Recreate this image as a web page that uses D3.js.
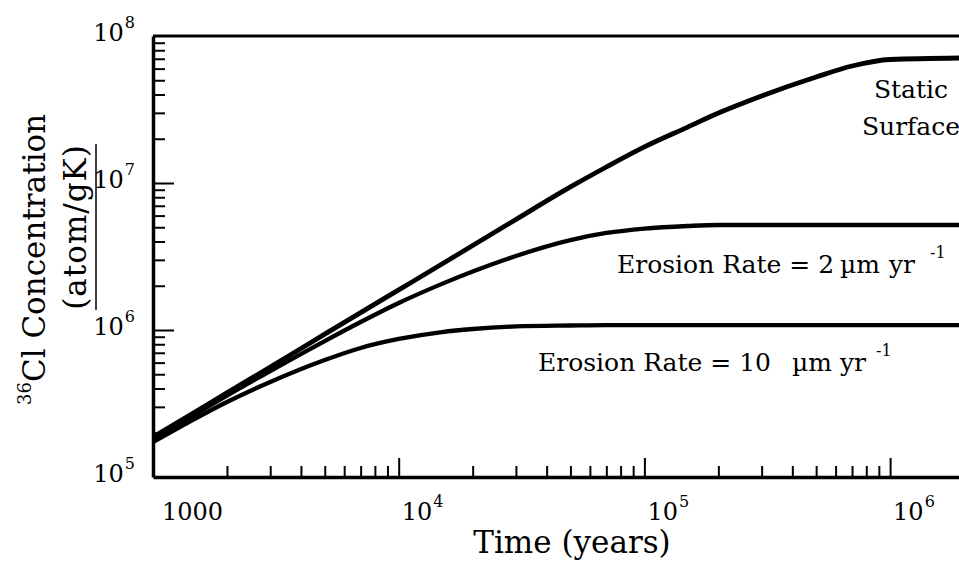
<!DOCTYPE html>
<html>
<head>
<meta charset="utf-8">
<script src="https://cdn.jsdelivr.net/npm/d3@7"></script>
<style>
  html, body { margin: 0; padding: 0; background: #fff; }
  svg { display: block; }
  text { font-family: "DejaVu Serif", "Liberation Serif", serif; fill: #000; }
</style>
</head>
<body>
<svg id="chart" width="959" height="572"></svg>
<script>
// ---- data ----
const time = [1000, 1500, 2000, 3000, 5000, 7000, 1e4, 1.5e4, 2e4, 3e4, 5e4, 7e4,
              1e5, 1.5e5, 2e5, 3e5, 5e5, 7e5, 1e6, 2e6];
const staticSurface = [1.87e5, 2.80e5, 3.74e5, 5.60e5, 9.37e5, 1.313e6, 1.874e6, 2.81e6,
                       3.76e6, 5.65e6, 9.40e6, 1.285e7, 1.76e7, 2.40e7, 2.99e7, 3.91e7,
                       5.26e7, 6.25e7, 6.92e7, 7.09e7];
const erosion2 = [1.82e5, 2.70e5, 3.58e5, 5.26e5, 8.41e5, 1.133e6, 1.527e6, 2.06e6,
                  2.50e6, 3.19e6, 4.09e6, 4.57e6, 4.90e6, 5.10e6, 5.18e6, 5.18e6,
                  5.18e6, 5.18e6, 5.18e6, 5.18e6];
const erosion10 = [1.73e5, 2.52e5, 3.24e5, 4.43e5, 6.25e5, 7.55e5, 8.69e5, 9.69e5,
                   1.016e6, 1.057e6, 1.073e6, 1.08e6, 1.08e6, 1.08e6, 1.08e6, 1.08e6,
                   1.08e6, 1.08e6, 1.08e6, 1.08e6];
const xMajorTicks = [1e3, 1e4, 1e5, 1e6];
const xTickLabels = [{base: "1000", sup: ""}, {base: "10", sup: "4"}, {base: "10", sup: "5"}, {base: "10", sup: "6"}];
const yMajorTicks = [1e5, 1e6, 1e7, 1e8];
const yTickExps = ["5", "6", "7", "8"];
const seriesNames = ["Static Surface", "Erosion Rate = 2 µm/yr", "Erosion Rate = 10 µm/yr"];

// ---- layout ----
const svg = d3.select("#chart");
const x = d3.scaleLog().domain([1000, 2e6]).range([153, 153 + 245.7 * Math.log10(2000)]);
const y = d3.scaleLog().domain([1e5, 1e8]).range([477, 36]);

function minorTicks(decades) {
  const out = [];
  decades.forEach(d => { for (let k = 2; k <= 9; k++) out.push(k * d); });
  return out;
}
const xMinor = minorTicks([1e3, 1e4, 1e5]);
const yMinor = minorTicks([1e5, 1e6, 1e7]);

// frame: top line
svg.append("line")
  .attr("x1", x.range()[0]).attr("x2", x.range()[1])
  .attr("y1", y(1e8)).attr("y2", y(1e8))
  .attr("stroke", "#000").attr("stroke-width", 3);

// bottom axis
const gx = svg.append("g").attr("transform", `translate(0,${y(1e5)})`);
gx.call(d3.axisBottom(x).tickValues(xMinor).tickSize(-11).tickSizeOuter(0).tickFormat(""));
const gx2 = svg.append("g").attr("transform", `translate(0,${y(1e5)})`);
gx2.call(d3.axisBottom(x).tickValues(xMajorTicks.slice(1)).tickSize(-19).tickSizeOuter(0).tickFormat(""));
gx2.select(".domain").remove();
gx.select(".domain").attr("stroke-width", 3.5);

// left axis
const gy = svg.append("g").attr("transform", `translate(${x(1000)},0)`);
gy.call(d3.axisLeft(y).tickValues(yMinor).tickSize(-12).tickSizeOuter(0).tickFormat(""));
const gy2 = svg.append("g").attr("transform", `translate(${x(1000)},0)`);
gy2.call(d3.axisLeft(y).tickValues([1e6, 1e7]).tickSize(-21).tickSizeOuter(0).tickFormat(""));
gy2.select(".domain").remove();
gy.select(".domain").attr("stroke-width", 3.5);
svg.selectAll("g .tick line").attr("stroke-width", 2);

// x tick labels
xMajorTicks.forEach((v, i) => {
  const lab = xTickLabels[i];
  const t = svg.append("text")
    .attr("x", x(v) + (lab.sup ? 3 : 9))
    .attr("y", 520)
    .attr("font-size", 24);
  t.append("tspan").text(lab.base);
  if (lab.sup) t.append("tspan").attr("dy", -13).attr("dx", 1).attr("font-size", 16).text(lab.sup);
});

// y tick labels
yMajorTicks.forEach((v, i) => {
  const t = svg.append("text")
    .attr("x", 135)
    .attr("y", y(v) + 5)
    .attr("text-anchor", "end")
    .attr("font-size", 24);
  t.append("tspan").text("10");
  t.append("tspan").attr("dy", -13).attr("dx", 1).attr("font-size", 16).text(yTickExps[i]);
});

// curves
const line = d3.line()
  .x(d => x(d[0]))
  .y(d => y(d[1]))
  .curve(d3.curveMonotoneX);
svg.append("clipPath").attr("id", "plotclip")
  .append("rect").attr("x", x.range()[0]).attr("y", y.range()[1])
  .attr("width", x.range()[1] - x.range()[0]).attr("height", y.range()[0] - y.range()[1]);
const plot = svg.append("g").attr("clip-path", "url(#plotclip)");
[[staticSurface, 4.8], [erosion2, 4.3], [erosion10, 4.3]].forEach(([vals, w], i) => {
  plot.append("path")
    .datum(time.map((t, j) => [t, vals[j]]))
    .attr("class", "series")
    .attr("data-name", seriesNames[i])
    .attr("fill", "none")
    .attr("stroke", "#000")
    .attr("stroke-width", w)
    .attr("stroke-linejoin", "round")
    .attr("stroke-linecap", "round")
    .attr("d", line);
});

// annotations
svg.append("text").attr("x", 911).attr("y", 98).attr("text-anchor", "middle")
  .attr("font-size", 25).text("Static");
svg.append("text").attr("x", 911).attr("y", 135).attr("text-anchor", "middle")
  .attr("font-size", 25).text("Surface");

function erosionLabel(baseY, parts) {
  const t = svg.append("text").attr("y", baseY).attr("font-size", 25);
  parts.forEach(p => {
    const s = t.append("tspan").attr("x", p.x).text(p.text);
    if (p.sup) s.attr("font-size", 16).attr("dy", -15);
  });
}
erosionLabel(273, [
  {x: 617, text: "Erosion Rate = 2"},
  {x: 840, text: "µm"},
  {x: 889, text: "yr"},
  {x: 930, text: "-1", sup: true}
]);
erosionLabel(371, [
  {x: 538, text: "Erosion Rate = 10"},
  {x: 792, text: "µm"},
  {x: 840, text: "yr"},
  {x: 876, text: "-1", sup: true}
]);

// axis titles
svg.append("text").attr("x", 572).attr("y", 553).attr("text-anchor", "middle")
  .attr("font-size", 31).text("Time (years)");

const yt = svg.append("text").attr("transform", "translate(45,405) rotate(-90)")
  .attr("font-size", 31);
yt.append("tspan").attr("font-size", 18).attr("dy", -14).text("36");
yt.append("tspan").attr("dy", 14).text("Cl Concentration");

svg.append("text").attr("transform", "translate(86,227) rotate(-90)")
  .attr("text-anchor", "middle").attr("font-size", 31)
  .attr("letter-spacing", 1).text("(atom/gK)");
svg.append("line").attr("x1", 96).attr("x2", 96).attr("y1", 144).attr("y2", 310)
  .attr("stroke", "#000").attr("stroke-width", 1.5);
</script>
</body>
</html>
